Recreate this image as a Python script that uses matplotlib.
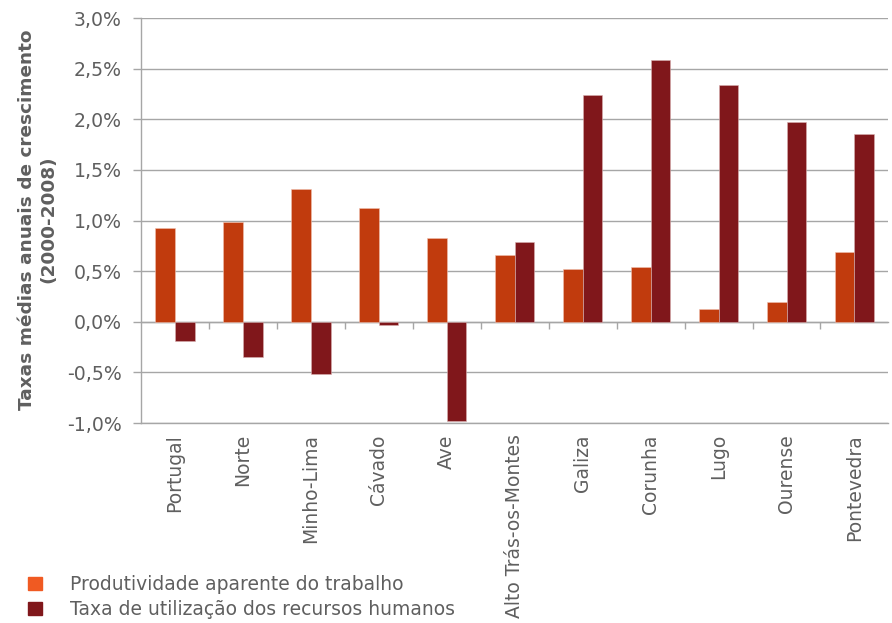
import numpy as np
import matplotlib
matplotlib.use("Agg")
import matplotlib.pyplot as plt
from matplotlib.patches import Patch
from matplotlib.ticker import FuncFormatter

regioes = ['Portugal', 'Norte', 'Minho-Lima', 'Cávado', 'Ave', 'Alto Trás-os-Montes',
           'Galiza', 'Corunha', 'Lugo', 'Ourense', 'Pontevedra']
produtividade = [0.93, 0.99, 1.315, 1.12, 0.83, 0.66, 0.52, 0.54, 0.13, 0.20, 0.69]
utilizacao = [-0.185, -0.35, -0.52, -0.035, -0.98, 0.79, 2.24, 2.59, 2.34, 1.97, 1.85]
serie_nomes = ['Produtividade aparente do trabalho', 'Taxa de utilização dos recursos humanos']

cor_prod = '#C13B0D'
cor_util = '#80171B'
cinza = '#A6A6A6'
texto = '#5F5F5F'

plt.rcParams['font.family'] = ['DejaVu Sans']

fig = plt.figure(figsize=(8.92, 6.23), dpi=100)
ax = fig.add_axes([0.158, 0.321, 0.838, 0.650])

x = np.arange(len(regioes))
w = 0.29
ax.bar(x - w / 2, produtividade, w, color=cor_prod, edgecolor='#F0C0B0', linewidth=0.4, zorder=3)
ax.bar(x + w / 2, utilizacao, w, color=cor_util, edgecolor='#D8B0B0', linewidth=0.4, zorder=3)

ax.set_xlim(-0.5, len(regioes) - 0.5)
ax.set_ylim(-1.0, 3.0)
ax.set_yticks(np.arange(-1.0, 3.01, 0.5))
ax.yaxis.set_major_formatter(FuncFormatter(lambda v, p: f'{v:.1f}%'.replace('.', ',')))
ax.grid(axis='y', color=cinza, linewidth=1.0, zorder=0)
ax.set_axisbelow(True)

for s in ['top', 'right']:
    ax.spines[s].set_visible(False)
for s in ['left', 'bottom']:
    ax.spines[s].set_color(cinza)
    ax.spines[s].set_linewidth(1.0)

ax.tick_params(axis='y', colors=cinza, labelcolor=texto, labelsize=13.6, length=6, width=1.0, pad=8)
ax.set_xticks(x)
ax.set_xticklabels(regioes, rotation=90, fontsize=13.5, color=texto)
ax.tick_params(axis='x', length=0, pad=8)

# eixo horizontal no zero com marcas entre categorias
ax0 = ax.secondary_xaxis(0.25)
ax0.set_xticks(np.arange(0.5, len(regioes) - 0.5, 1.0))
ax0.set_xticklabels([])
ax0.tick_params(axis='x', direction='out', length=5, width=1.0, colors=cinza)
ax0.spines['bottom'].set_color(cinza)
ax0.spines['bottom'].set_linewidth(1.0)

fig.text(0.042, 0.648, 'Taxas médias anuais de crescimento\n(2000-2008)', rotation=90,
         ha='center', va='center', fontsize=13.3, fontweight='bold', color=texto,
         multialignment='center', linespacing=1.25)

handles = [Patch(color='#F05A22'), Patch(color=cor_util)]
fig.legend(handles, serie_nomes, loc='upper left', bbox_to_anchor=(0.031, 0.077), frameon=False,
           borderaxespad=0, borderpad=0,
           fontsize=13.5, labelcolor=texto, handlelength=0.75, handleheight=0.75,
           handletextpad=1.5, labelspacing=0.32)

fig.savefig('out.png', dpi=100)
